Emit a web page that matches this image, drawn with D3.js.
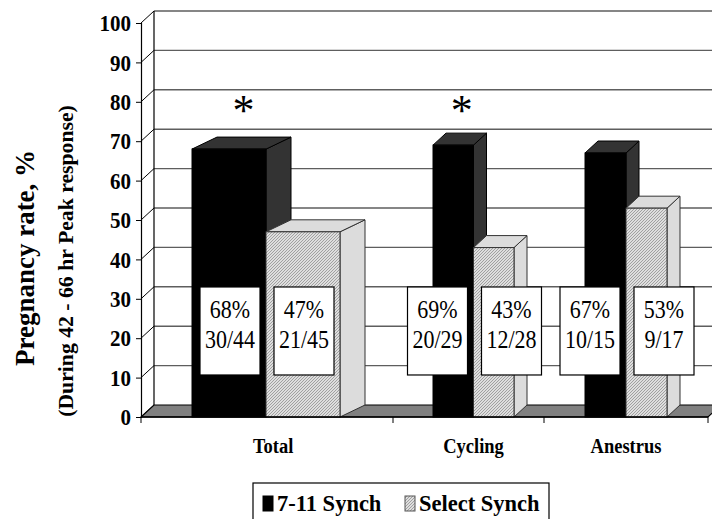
<!DOCTYPE html>
<html>
<head>
<meta charset="utf-8">
<script src="https://cdn.jsdelivr.net/npm/d3@7"></script>
<style>
  html, body { margin: 0; padding: 0; background: #fff; }
  svg { display: block; }
</style>
</head>
<body>
<script>
// ---- data ----
const categories = ["Total", "Cycling", "Anestrus"];
const series = ["7-11 Synch", "Select Synch"];
const synch711 = [68, 69, 67];          // pregnancy rate, %
const selectSynch = [47, 43, 53];       // pregnancy rate, %
const synch711Counts = ["30/44", "20/29", "10/15"];
const selectCounts = ["21/45", "12/28", "9/17"];
const significant = [true, true, false];
const yTickValues = [0, 10, 20, 30, 40, 50, 60, 70, 80, 90, 100];

// ---- layout ----
const W = 712, H = 519;
const FONT = "'Liberation Serif', 'Times New Roman', serif";
const depthY = -12;           // oblique depth of the floor / back wall
const wallDX = 13;            // depth of the side wall
const bandEdges = [141, 393, 544, 708];
const groupLeft = [192, 433, 585];
const groupBarWidth = [74, 40.5, 41];
const groupDepthX = [25, 13, 13];

const svg = d3.select("body").append("svg").attr("width", W).attr("height", H)
  .style("font-family", FONT);

const defs = svg.append("defs");
const pat = defs.append("pattern")
  .attr("id", "hatch").attr("patternUnits", "userSpaceOnUse")
  .attr("width", 3).attr("height", 3);
pat.append("rect").attr("width", 3).attr("height", 3).attr("fill", "#dedede");
pat.append("path").attr("d", "M-1,1 l2,-2 M0,3 l3,-3 M2,4 l2,-2")
  .attr("stroke", "#999").attr("stroke-width", 0.9);

const y = d3.scaleLinear().domain([0, 100]).range([417, 23]);
const yBack = v => y(v) + depthY;
const xCat = d3.scaleLinear().domain(d3.range(bandEdges.length)).range(bandEdges);

function label(sel) { return sel.style("font-family", FONT).attr("fill", "#000"); }

// back wall gridlines
svg.append("g").selectAll("line").data(yTickValues.filter(v => v > 0)).join("line")
  .attr("x1", bandEdges[0] + wallDX).attr("x2", W)
  .attr("y1", d => yBack(d)).attr("y2", d => yBack(d))
  .attr("stroke", "#5e5e5e").attr("stroke-width", 1.4);

// back wall left edge
svg.append("line")
  .attr("x1", bandEdges[0] + wallDX).attr("x2", bandEdges[0] + wallDX)
  .attr("y1", yBack(100)).attr("y2", yBack(0))
  .attr("stroke", "#000").attr("stroke-width", 1.2);

// side wall diagonals
svg.append("g").selectAll("line").data(yTickValues).join("line")
  .attr("x1", bandEdges[0]).attr("y1", d => y(d))
  .attr("x2", bandEdges[0] + wallDX).attr("y2", d => yBack(d))
  .attr("stroke", "#000").attr("stroke-width", 1);

// floor
const x0 = bandEdges[0], xN = bandEdges[bandEdges.length - 1];
svg.append("path")
  .attr("d", `M${x0},${y(0)} L${x0 + wallDX},${yBack(0)} L${xN + wallDX},${yBack(0)} L${xN},${y(0)} Z`)
  .attr("fill", "#808080").attr("stroke", "#000").attr("stroke-width", 1.2);

// bars
const barsG = svg.append("g");
categories.forEach((cat, i) => {
  const x1 = d3.scaleBand().domain(series)
    .range([groupLeft[i], groupLeft[i] + 2 * groupBarWidth[i]]);
  const dx = groupDepthX[i];
  const vals = [synch711[i], selectSynch[i]];
  series.forEach((s, j) => {
    const v = vals[j];
    const bx = x1(s), bw = x1.bandwidth();
    const top = y(v), bot = y(0);
    const dark = j === 0;
    const g = barsG.append("g");
    g.append("path")
      .attr("d", `M${bx + bw},${top} L${bx + bw + dx},${top + depthY} L${bx + bw + dx},${bot + depthY} L${bx + bw},${bot} Z`)
      .attr("fill", dark ? "#333" : "#dcdcdc").attr("stroke", dark ? "#000" : "#333").attr("stroke-width", 1)
      .attr("stroke-linejoin", "round");
    g.append("path")
      .attr("d", `M${bx},${top} L${bx + dx},${top + depthY} L${bx + bw + dx},${top + depthY} L${bx + bw},${top} Z`)
      .attr("fill", dark ? "#333" : "#dcdcdc").attr("stroke", dark ? "#000" : "#333").attr("stroke-width", 1)
      .attr("stroke-linejoin", "round");
    g.append("rect")
      .attr("x", bx).attr("y", top).attr("width", bw).attr("height", bot - top)
      .attr("fill", dark ? "#000" : "url(#hatch)").attr("stroke", dark ? "#000" : "#333").attr("stroke-width", 1);
  });
});

// x axis line and category ticks
svg.append("line").attr("x1", x0).attr("x2", xN).attr("y1", y(0)).attr("y2", y(0))
  .attr("stroke", "#000").attr("stroke-width", 1.5);
svg.append("g").selectAll("line").data(d3.range(bandEdges.length)).join("line")
  .attr("x1", d => xCat(d)).attr("x2", d => xCat(d))
  .attr("y1", y(0)).attr("y2", y(0) + 6)
  .attr("stroke", "#000").attr("stroke-width", 1);

// y axis
const yAxis = d3.axisLeft(y).tickValues(yTickValues).tickSize(5).tickPadding(5).tickFormat(d3.format("d"));
const yAxisG = svg.append("g").attr("transform", `translate(${x0},0)`).call(yAxis)
  .attr("font-family", null).attr("font-size", null);
yAxisG.select(".domain").attr("stroke", "#000").attr("stroke-width", 1.2);
yAxisG.selectAll(".tick line").attr("stroke", "#000");
yAxisG.selectAll(".tick text").call(label)
  .attr("font-size", 21).attr("font-weight", "bold")
  .attr("dy", "0.34em")
  .attr("transform", "matrix(1,0,0,1.07,0,0)");

// category labels, centred under each bar pair
svg.append("g").selectAll("text").data(categories).join("text").call(label)
  .attr("transform", (d, i) => {
    const cx = groupLeft[i] + groupBarWidth[i] + (groupDepthX[i] - 13) * 0.6;
    return `translate(${cx},453) scale(1,1.08)`;
  })
  .attr("text-anchor", "middle").attr("font-size", 18.5).attr("font-weight", "bold")
  .text(d => d);

// value label boxes
const boxW = 60, boxH = 88;
categories.forEach((cat, i) => {
  const mid = groupLeft[i] + groupBarWidth[i];
  const centers = [mid - 36, mid + 38];
  const pct = [synch711[i], selectSynch[i]];
  const cnt = [synch711Counts[i], selectCounts[i]];
  centers.forEach((cx, j) => {
    const top = y(33);
    svg.append("rect").attr("x", cx - boxW / 2).attr("y", top)
      .attr("width", boxW).attr("height", boxH)
      .attr("fill", "#fff").attr("stroke", "#000").attr("stroke-width", 1.2);
    svg.append("text").call(label).attr("transform", `translate(${cx},${top + 31}) scale(1,1.12)`)
      .attr("text-anchor", "middle").attr("font-size", 22).text(pct[j] + "%");
    svg.append("text").call(label).attr("transform", `translate(${cx},${top + 61}) scale(1,1.12)`)
      .attr("text-anchor", "middle").attr("font-size", 22).text(cnt[j]);
  });
});

// significance markers
categories.forEach((cat, i) => {
  if (!significant[i]) return;
  const cx = groupLeft[i] + groupBarWidth[i] / 2 + groupDepthX[i] / 2 + 2;
  svg.append("text").call(label).attr("x", cx).attr("y", y(79) + 19)
    .attr("text-anchor", "middle").attr("font-size", 44).text("*");
});

// axis titles
svg.append("text").call(label)
  .attr("transform", "translate(34,258) rotate(-90)")
  .attr("text-anchor", "middle").attr("font-size", 27).attr("font-weight", "bold")
  .text("Pregnancy rate, %");
svg.append("text").call(label)
  .attr("transform", "translate(73,261) rotate(-90) scale(1.06,1)")
  .attr("text-anchor", "middle").attr("font-size", 20.5).attr("font-weight", "bold")
  .text("(During 42 - 66 hr Peak response)");

// legend
const leg = svg.append("g");
leg.append("rect").attr("x", 253).attr("y", 483).attr("width", 296).attr("height", 45)
  .attr("fill", "#fff").attr("stroke", "#000").attr("stroke-width", 1.2);
const legX = [263, 405];
series.forEach((s, j) => {
  leg.append("rect").attr("x", legX[j]).attr("y", 496).attr("width", 10).attr("height", 15)
    .attr("fill", j === 0 ? "#000" : "url(#hatch)").attr("stroke", j === 0 ? "#000" : "#555").attr("stroke-width", 1);
  leg.append("text").call(label).attr("transform", `translate(${legX[j] + 14},511) scale(1,1.07)`)
    .attr("font-size", 22.5).attr("font-weight", "bold").text(s);
});
</script>
</body>
</html>
